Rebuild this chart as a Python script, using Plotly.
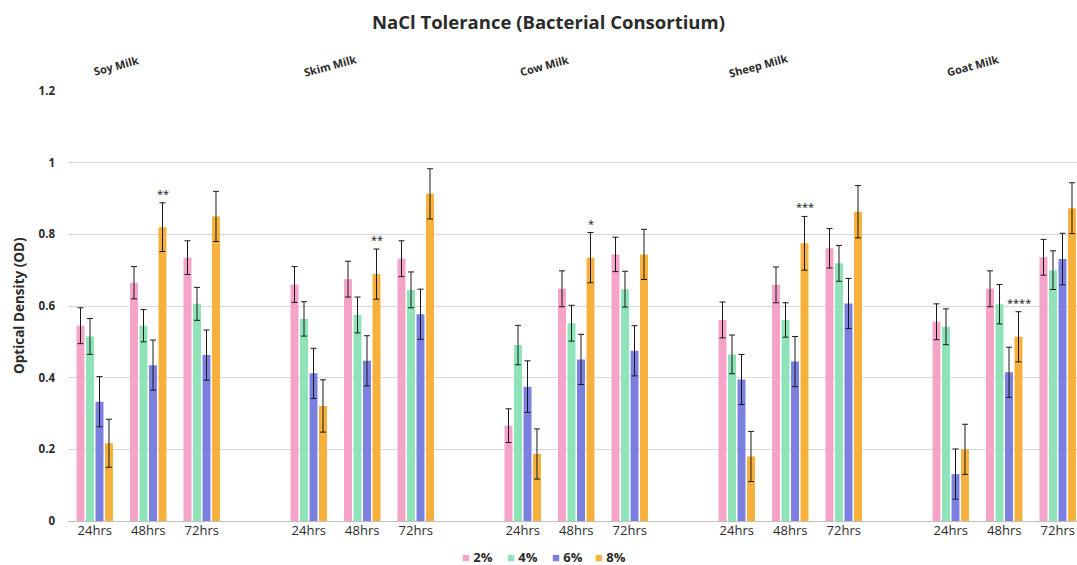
import plotly.graph_objects as go

groups = ["Soy Milk", "Skim Milk", "Cow Milk", "Sheep Milk", "Goat Milk"]
times = ["24hrs", "48hrs", "72hrs"]
series_names = ["2%", "4%", "6%", "8%"]

# values ordered group by group, 24/48/72 hrs
od_2 = [0.545, 0.665, 0.735, 0.660, 0.675, 0.732, 0.266, 0.648, 0.744, 0.561, 0.659, 0.761, 0.556, 0.648, 0.736]
od_4 = [0.515, 0.545, 0.606, 0.564, 0.575, 0.645, 0.491, 0.552, 0.647, 0.465, 0.561, 0.719, 0.542, 0.605, 0.700]
od_6 = [0.333, 0.435, 0.463, 0.412, 0.447, 0.577, 0.375, 0.451, 0.475, 0.395, 0.445, 0.607, 0.131, 0.415, 0.731]
od_8 = [0.217, 0.820, 0.850, 0.321, 0.689, 0.913, 0.187, 0.735, 0.744, 0.180, 0.775, 0.863, 0.200, 0.514, 0.873]

err_2 = [0.050, 0.045, 0.047, 0.050, 0.050, 0.050, 0.047, 0.050, 0.048, 0.050, 0.050, 0.055, 0.050, 0.050, 0.050]
err_4 = [0.050, 0.045, 0.046, 0.048, 0.050, 0.050, 0.055, 0.050, 0.050, 0.054, 0.048, 0.050, 0.050, 0.055, 0.054]
err_6 = [0.070, 0.070, 0.070, 0.070, 0.070, 0.070, 0.072, 0.070, 0.070, 0.070, 0.070, 0.070, 0.070, 0.070, 0.072]
err_8 = [0.067, 0.068, 0.070, 0.073, 0.070, 0.070, 0.070, 0.070, 0.070, 0.070, 0.075, 0.073, 0.070, 0.070, 0.071]

# significance marks on the 48hrs / 8% bar of each group
stars = ["**", "**", "*", "***", "****"]

colors = ["#F5A3C7", "#8FE3B9", "#7B7FE0", "#F6B13D"]

values = [od_2, od_4, od_6, od_8]
errors = [err_2, err_4, err_6, err_8]

# x positions: 3 time slots per group, one empty slot between groups
xpos = [4 * g + t for g in range(len(groups)) for t in range(len(times))]
xtext = [times[t] for g in range(len(groups)) for t in range(len(times))]

FONT = "Open Sans"
TXT = "#2b2b2b"

fig = go.Figure()
for name, vals, errs, col in zip(series_names, values, errors, colors):
    fig.add_trace(go.Bar(
        x=xpos, y=vals, name=name,
        marker=dict(color=col, line=dict(width=0)),
        error_y=dict(type="data", array=errs, visible=True,
                     color="#1a1a1a", thickness=1, width=3),
        showlegend=False,
    ))

W, H = 1077, 565
ml, mr, mt, mb = 68, 0, 91, 44
plot_w = W - ml - mr
plot_h = H - mt - mb
slot_px = 53.5
x_lo = -0.5
x_hi = x_lo + plot_w / slot_px

annotations = []
# title
annotations.append(dict(text="<b>NaCl Tolerance (Bacterial Consortium)</b>",
                        xref="paper", yref="paper",
                        x=(548 - ml) / plot_w, y=(H - mb - 22) / plot_h,
                        xanchor="center", yanchor="middle", showarrow=False,
                        font=dict(family=FONT, size=18.5, color=TXT)))
# y-axis title
annotations.append(dict(text="<b>Optical Density (OD)</b>", textangle=-90,
                        xref="paper", yref="paper",
                        x=-(ml - 19) / plot_w, y=0.5,
                        xanchor="center", yanchor="middle", showarrow=False,
                        font=dict(family=FONT, size=13.5, color=TXT)))
# group labels
for g, name in enumerate(groups):
    annotations.append(dict(text="<b>" + name + "</b>", textangle=-15,
                            xref="x", yref="paper",
                            x=4 * g + 1 - 0.6, y=(H - mb - 65) / plot_h,
                            xanchor="center", yanchor="middle", showarrow=False,
                            font=dict(family=FONT, size=11, color=TXT)))
# significance stars
pitch = 0.178
for g, s in enumerate(stars):
    idx = g * 3 + 1
    annotations.append(dict(text=s, xref="x", yref="y",
                            x=xpos[idx] + 1.5 * pitch,
                            y=od_8[idx] + err_8[idx],
                            xanchor="center", yanchor="bottom",
                            showarrow=False,
                            font=dict(family=FONT, size=11, color="#111111")))
# legend drawn as text
leg_x = [465, 510, 555, 598]
for name, col, lx in zip(series_names, colors, leg_x):
    annotations.append(dict(text='<span style="color:%s">\u25A0</span> <b>%s</b>' % (col, name),
                            xref="paper", yref="paper",
                            x=(lx - 5 - ml) / plot_w, y=-36 / plot_h,
                            xanchor="left", yanchor="middle", showarrow=False,
                            font=dict(family=FONT, size=13, color=TXT)))

fig.update_layout(
    width=W, height=H,
    margin=dict(l=ml, r=mr, t=mt, b=mb, pad=0),
    paper_bgcolor="white", plot_bgcolor="white",
    barmode="group", bargap=0.29, bargroupgap=0.16,
    font=dict(family=FONT, color=TXT),
    showlegend=False,
    annotations=annotations,
    xaxis=dict(range=[x_lo, x_hi], tickmode="array", tickvals=xpos, ticktext=xtext,
               showgrid=False, zeroline=False, showline=False, ticks="",
               tickfont=dict(family=FONT, size=13, color=TXT), ticklabelstandoff=0),
    yaxis=dict(range=[0, 1.2], tickmode="array",
               tickvals=[0, 0.2, 0.4, 0.6, 0.8, 1.0, 1.2],
               ticktext=["<b>0</b>", "<b>0.2</b>", "<b>0.4</b>", "<b>0.6</b>", "<b>0.8</b>", "<b>1</b>", "<b>1.2</b>"],
               showgrid=True, gridcolor="#d9d9d9", gridwidth=1,
               zeroline=True, zerolinecolor="#bfbfbf", zerolinewidth=1,
               showline=False, ticks="", ticklabelstandoff=12,
               tickfont=dict(family=FONT, size=11.5, color=TXT)),
)

fig.write_html("out.html")
